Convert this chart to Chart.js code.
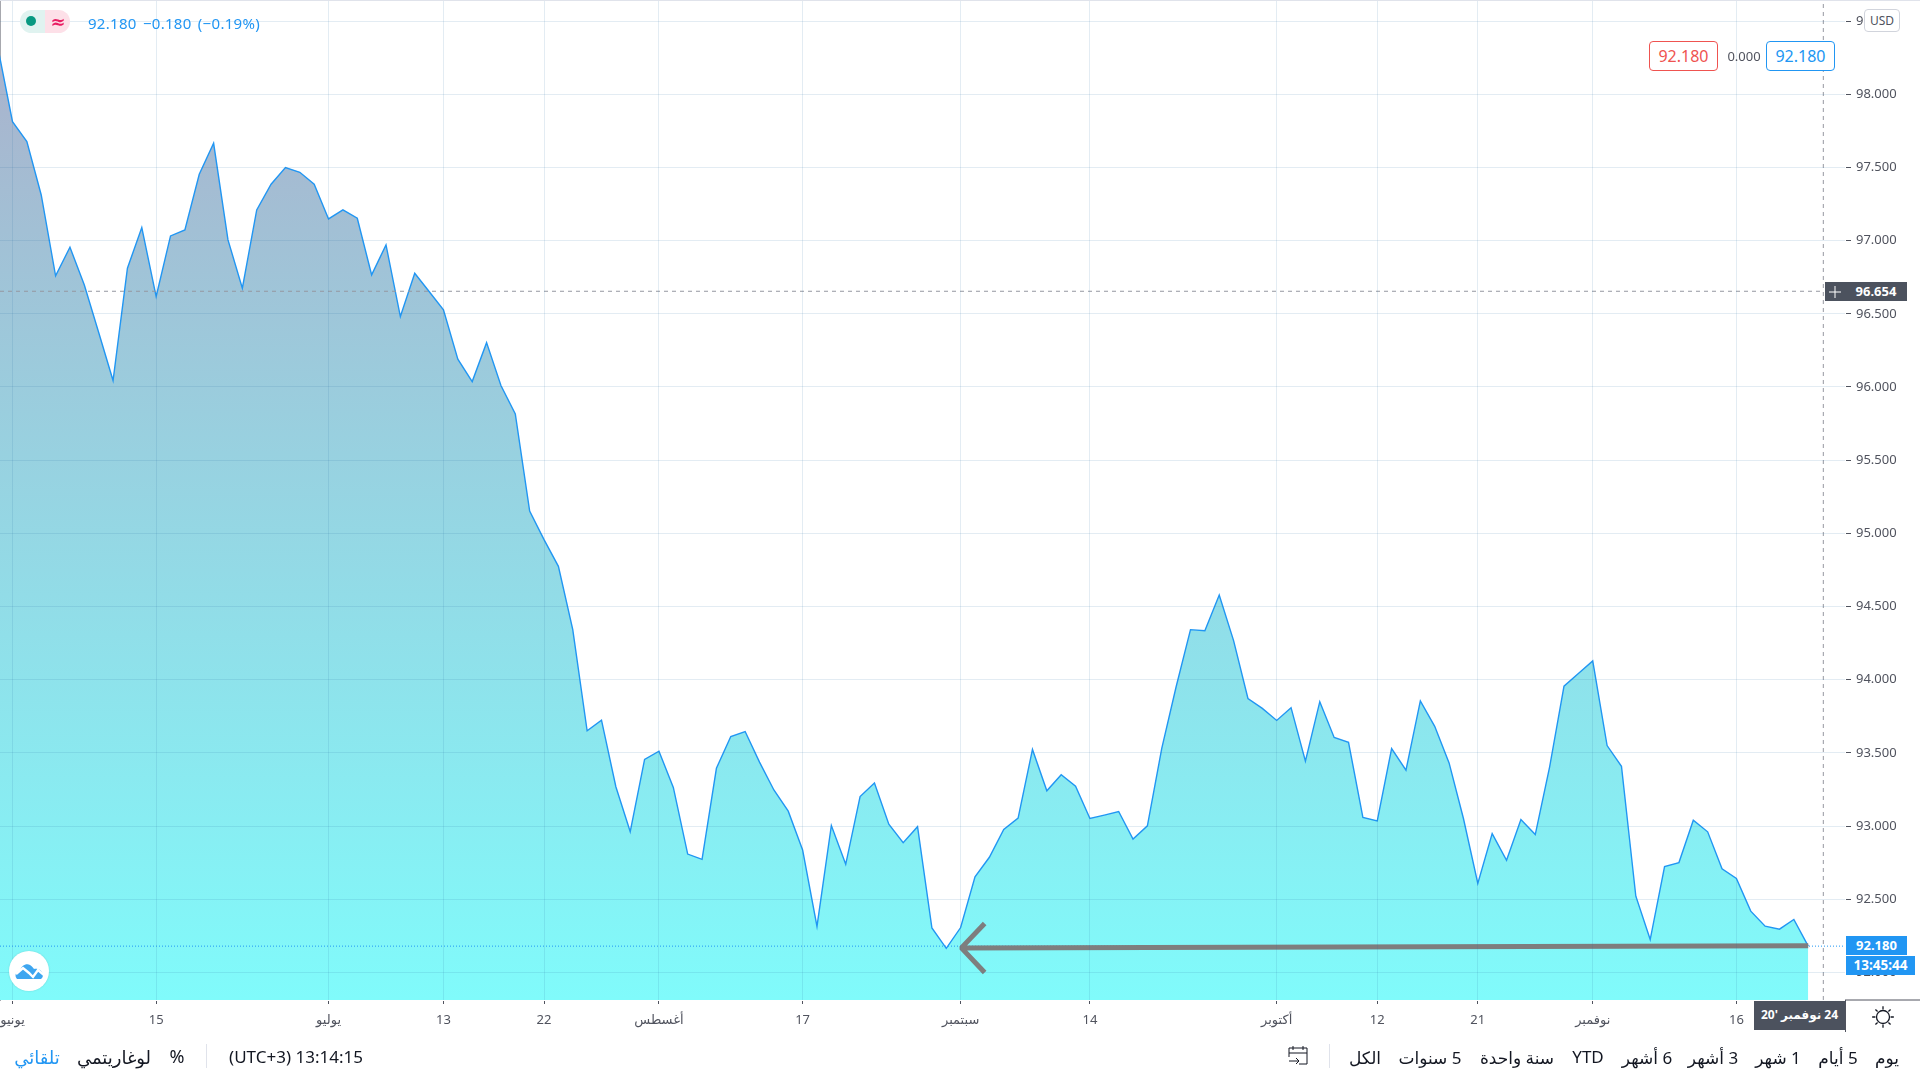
<!DOCTYPE html>
<html lang="ar">
<head>
<meta charset="utf-8">
<title>USD</title>
<script src="https://cdn.jsdelivr.net/npm/chart.js@4"></script>
<style>
html,body{margin:0;padding:0;background:#fff;width:1920px;height:1080px;overflow:hidden;font-family:"Noto Sans","DejaVu Sans",sans-serif}
#wrap{position:relative;width:1920px;height:1080px}
canvas{position:absolute;left:0;top:0}
.c{position:absolute;transform:translate(-50%,-50%);white-space:nowrap;line-height:1}
.box{position:absolute;box-sizing:border-box;text-align:center;white-space:nowrap}
.bar{font-size:17px;color:#131722}
.lab{color:#fff;font-weight:700;font-size:13px}
</style>
</head>
<body>
<div id="wrap">
<canvas id="chart" width="1920" height="1080"></canvas>

<!-- header legend -->
<div class="box" style="left:20px;top:10px;width:25px;height:23px;background:#e0f3f0;border-radius:12px 0 0 12px"></div>
<div class="box" style="left:45px;top:10px;width:25px;height:23px;background:#fde0e8;border-radius:0 12px 12px 0"></div>
<div class="box" style="left:26px;top:16px;width:10px;height:10px;border-radius:50%;background:#089981"></div>
<div class="c" style="left:58px;top:21px;font-size:18px;font-weight:700;color:#e91e63">≈</div>
<div class="c" style="left:174px;top:23px;font-size:15px;letter-spacing:.3px;color:#2196f3;word-spacing:2px">92.180 −0.180 (−0.19%)</div>

<!-- order boxes -->
<div class="box" style="left:1649px;top:41px;width:69px;height:30px;background:#fff;border:1px solid #ef5350;border-radius:4px;color:#ef5350;font-size:16px;line-height:28px">92.180</div>
<div class="c" style="left:1744px;top:56px;font-size:13px;color:#50535e">0.000</div>
<div class="box" style="left:1766px;top:41px;width:69px;height:30px;background:#fff;border:1px solid #2196f3;border-radius:4px;color:#2196f3;font-size:16px;line-height:28px">92.180</div>

<div class="box" style="left:1864px;top:9px;width:36px;height:23px;border:1px solid #d1d4dc;border-radius:4px;background:#fff;color:#50535e;font-size:12px;line-height:21px">USD</div>

<!-- crosshair labels -->
<div class="box lab" style="left:1825px;top:282px;width:82px;height:19px;background:#4c525e;line-height:18px;padding-left:20px">96.654</div>
<svg style="position:absolute;left:1828px;top:285px" width="14" height="14"><path d="M7 1V13M1 7H13" stroke="#fff" stroke-width="1"/></svg>
<div class="box lab" style="left:1846px;top:936px;width:61px;height:19px;background:#2196f3;line-height:18px">92.180</div>
<div class="box lab" style="left:1846px;top:956px;width:69px;height:19px;background:#2196f3;line-height:18px;font-size:13.5px">13:45:44</div>
<div class="box lab" dir="rtl" style="left:1754px;top:1001px;width:91px;height:29px;background:#4c525e;line-height:28px;font-weight:700;font-size:12px">24 نوفمبر '20</div>

<!-- logo -->
<div class="box" style="left:9px;top:951px;width:40px;height:40px;border-radius:50%;background:#fff;box-shadow:0 0 2px rgba(0,0,0,.15)"></div>
<svg style="position:absolute;left:15px;top:961px" width="30" height="20" viewBox="0 0 30 20">
<path d="M2 18c-3-3-1-8 3-8 1-5 6-8 10-6 2 1 3 3 4 4 4-1 9 2 9 6 0 2-1 3-2 4z" fill="#3ea6f0"/>
<path d="M1 13l7-6 6 5 4 4 5-7 6 5" fill="none" stroke="#fff" stroke-width="2.4"/>
</svg>

<!-- sun icon -->
<svg style="position:absolute;left:1870px;top:1004px" width="26" height="26" viewBox="0 0 24 24" fill="none" stroke="#131722" stroke-width="1.2">
<circle cx="12" cy="12" r="6"/><path d="M12 2v3M12 19v3M2 12h3M19 12h3M5 5l2 2M17 17l2 2M5 19l2-2M17 7l2-2"/>
</svg>

<!-- bottom toolbar -->
<div class="c bar" dir="rtl" style="left:1887px;top:1057px">يوم</div>
<div class="c bar" dir="rtl" style="left:1838px;top:1057px">5 أيام</div>
<div class="c bar" dir="rtl" style="left:1778px;top:1057px">1 شهر</div>
<div class="c bar" dir="rtl" style="left:1713px;top:1057px">3 أشهر</div>
<div class="c bar" dir="rtl" style="left:1647px;top:1057px">6 أشهر</div>
<div class="c bar" style="left:1588px;top:1056px">YTD</div>
<div class="c bar" dir="rtl" style="left:1517px;top:1057px">سنة واحدة</div>
<div class="c bar" dir="rtl" style="left:1430px;top:1057px">5 سنوات</div>
<div class="c bar" dir="rtl" style="left:1365px;top:1057px">الكل</div>
<div class="box" style="left:1329px;top:1044px;width:1px;height:24px;background:#e0e3eb"></div>
<svg style="position:absolute;left:1287px;top:1045px" width="22" height="22" viewBox="0 0 22 22" fill="none" stroke="#131722" stroke-width="1">
<path d="M6 8H2V3h18v5H6M2 8v4M20 8v11H12M6 1v4M16 1v4M2 16h10M9 13l3 3-3 3"/>
</svg>
<div class="c bar" style="left:296px;top:1056px">(UTC+3) 13:14:15</div>
<div class="box" style="left:206px;top:1044px;width:1px;height:24px;background:#e0e3eb"></div>
<div class="c bar" style="left:177px;top:1056px;font-size:18px">%</div>
<div class="c bar" dir="rtl" style="left:114px;top:1057px;font-size:18px">لوغاريتمي</div>
<div class="c bar" dir="rtl" style="left:37px;top:1057px;color:#2196f3;font-size:18px">تلقائي</div>
</div>

<script>
// Trading-day index: -1 is the last close before the first June session.
const closes = [
98.31,97.813,97.677,97.312,96.759,96.955,96.697,96.372,96.044,96.811,97.089,
96.618,97.032,97.073,97.453,97.665,97.005,96.675,97.21,97.385,97.499,97.467,
97.385,97.148,97.21,97.153,96.766,96.971,96.481,96.777,96.652,96.527,96.19,
96.037,96.303,96.01,95.816,95.152,94.957,94.775,94.343,93.651,93.724,93.269,
92.962,93.456,93.512,93.264,92.809,92.773,93.395,93.612,93.646,93.437,93.247,
93.102,92.837,92.315,93.004,92.739,93.202,93.294,93.013,92.887,92.996,92.304,
92.165,92.307,92.653,92.787,92.977,93.055,93.524,93.241,93.351,93.273,93.052,
93.075,93.1,92.911,93.002,93.531,93.952,94.342,94.335,94.579,94.267,93.872,
93.804,93.722,93.809,93.444,93.85,93.606,93.572,93.059,93.036,93.53,93.382,
93.855,93.682,93.432,93.052,92.608,92.949,92.767,93.045,92.942,93.405,93.956,
94.042,94.129,93.55,93.409,92.521,92.225,92.724,92.751,93.04,92.961,92.708,
92.642,92.419,92.316,92.296,92.362,92.18
];
const xTickPositions = [0,10,22,30,37,45,55,66,75,88,95,102,110,120];
const xTickLabels = ["يونيو","15","يوليو","13","22","أغسطس","17","سبتمبر","14","أكتوبر","12","21","نوفمبر","16"];
const yTicks = [92,92.5,93,93.5,94,94.5,95,95.5,96,96.5,97,97.5,98,98.5];
const lastPrice = 92.18;
const crosshairPrice = 96.654;
const crosshairIndex = 126.05;
const arrowX = [125,66.05,67.67,66.05,67.67];
const arrowY = [92.183,92.168,92.334,92.168,92.0];
const xRange = [-0.87,127.56];
const yRange = [91.812,98.637];

const pts = closes.map((v,i)=>({x:i-1,y:v}));
const ctx = document.getElementById('chart').getContext('2d');
const AXIS = '#50535e';
const GRID = 'rgba(40,110,160,0.13)';
const FONT = '"Noto Sans","DejaVu Sans",sans-serif';

new Chart(ctx,{
  type:'line',
  data:{datasets:[
    {data:arrowX.map((x,i)=>({x,y:arrowY[i]})),borderColor:'#7e7e7e',borderWidth:5,pointRadius:0,fill:false,tension:0,order:0,borderJoinStyle:'bevel'},
    {data:[{x:xRange[0],y:lastPrice},{x:xRange[1],y:lastPrice}],borderColor:'#2196f3',borderWidth:1,borderDash:[1,2],pointRadius:0,fill:false,order:2},
    {data:[{x:xRange[0],y:crosshairPrice},{x:crosshairIndex,y:crosshairPrice}],borderColor:'#9598a1',borderWidth:1,borderDash:[4,4],pointRadius:0,fill:false,order:3},
    {data:[{x:crosshairIndex,y:yRange[0]},{x:crosshairIndex,y:yRange[1]}],borderColor:'#9598a1',borderWidth:1,borderDash:[4,4],pointRadius:0,fill:false,order:3},
    {data:pts,borderColor:'#2196f3',borderWidth:1.4,pointRadius:0,tension:0,fill:'start',order:5,
     backgroundColor(c){
       const a=c.chart.chartArea; if(!a) return 'transparent';
       const g=c.chart.ctx.createLinearGradient(0,48,0,a.bottom);
       g.addColorStop(0,'rgb(170,178,204)');
       g.addColorStop(1,'rgb(128,251,251)');
       return g;
     }}
  ]},
  options:{
    responsive:false,animation:false,
    layout:{padding:{top:1,left:0,right:0,bottom:0}},
    plugins:{legend:{display:false},tooltip:{enabled:false}},
    events:[],
    scales:{
      x:{type:'linear',min:xRange[0],max:xRange[1],
        grid:{color:GRID,z:1,tickColor:AXIS,tickLength:4,lineWidth:1},
        border:{color:AXIS,width:1},
        afterBuildTicks(s){s.ticks=xTickPositions.map(v=>({value:v}));},
        afterFit(s){s.height=80;s.paddingLeft=0;s.paddingRight=0;},
        ticks:{autoSkip:false,maxRotation:0,minRotation:0,padding:8,color:AXIS,
          font:{family:FONT,size:13},
          callback(v){return xTickLabels[xTickPositions.indexOf(v)];}}
      },
      y:{position:'right',min:yRange[0],max:yRange[1],
        grid:{color:GRID,z:1,tickColor:AXIS,tickLength:6,lineWidth:1},
        border:{color:AXIS,width:1},
        afterBuildTicks(s){s.ticks=yTicks.map(v=>({value:v}));},
        afterFit(s){s.width=75;s.paddingTop=0;s.paddingBottom=0;},
        ticks:{autoSkip:false,padding:5,color:AXIS,font:{family:FONT,size:13},
          callback(v){return v.toFixed(3);}}
      }
    }
  },
  plugins:[{id:'frame',afterDraw(ch){
    const c=ch.ctx,a=ch.chartArea;
    c.save();c.strokeStyle='#e0e3eb';c.lineWidth=1;c.beginPath();c.moveTo(0,0.5);c.lineTo(1920,0.5);c.stroke();
    c.strokeStyle=AXIS;c.beginPath();c.moveTo(a.right,a.bottom);c.lineTo(1920,a.bottom);
    c.moveTo(a.right+0.5,a.bottom);c.lineTo(a.right+0.5,1032);c.stroke();c.restore();
  }}]
});
</script>
</body>
</html>
